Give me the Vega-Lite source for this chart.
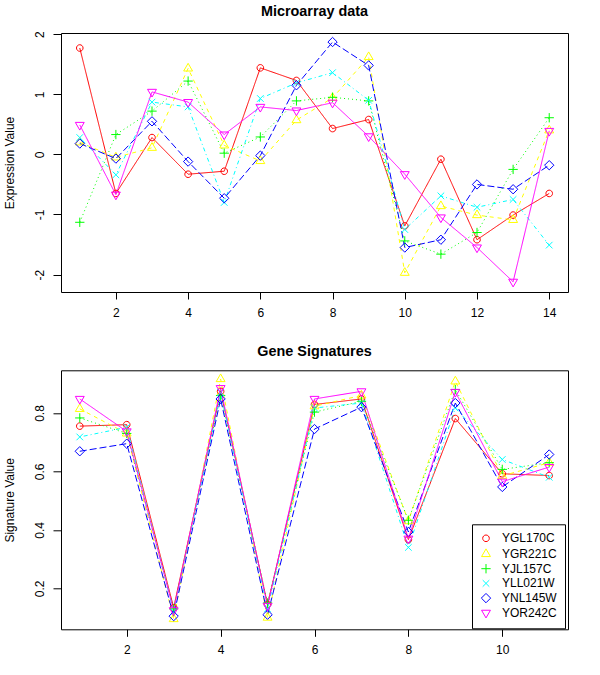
{
  "$schema": "https://vega.github.io/schema/vega-lite/v6.json",
  "padding": {"left": 3, "top": 3, "right": 0, "bottom": 0},
  "background": "white",
  "spacing": 78.3,
  "bounds": "flush",
  "datasets": {
    "micro": [
      {"g":"YGL170C","x":1,"v":1.77},{"g":"YGL170C","x":2,"v":-0.65},{"g":"YGL170C","x":3,"v":0.28},{"g":"YGL170C","x":4,"v":-0.33},{"g":"YGL170C","x":5,"v":-0.28},{"g":"YGL170C","x":6,"v":1.44},{"g":"YGL170C","x":7,"v":1.23},{"g":"YGL170C","x":8,"v":0.43},{"g":"YGL170C","x":9,"v":0.58},{"g":"YGL170C","x":10,"v":-1.19},{"g":"YGL170C","x":11,"v":-0.08},{"g":"YGL170C","x":12,"v":-1.42},{"g":"YGL170C","x":13,"v":-1.01},{"g":"YGL170C","x":14,"v":-0.65},
      {"g":"YGR221C","x":1,"v":0.2},{"g":"YGR221C","x":2,"v":-0.05},{"g":"YGR221C","x":3,"v":0.11},{"g":"YGR221C","x":4,"v":1.43},{"g":"YGR221C","x":5,"v":0.15},{"g":"YGR221C","x":6,"v":-0.11},{"g":"YGR221C","x":7,"v":0.57},{"g":"YGR221C","x":8,"v":0.94},{"g":"YGR221C","x":9,"v":1.62},{"g":"YGR221C","x":10,"v":-1.97},{"g":"YGR221C","x":11,"v":-0.86},{"g":"YGR221C","x":12,"v":-1.01},{"g":"YGR221C","x":13,"v":-1.09},{"g":"YGR221C","x":14,"v":0.4},
      {"g":"YJL157C","x":1,"v":-1.13},{"g":"YJL157C","x":2,"v":0.33},{"g":"YJL157C","x":3,"v":0.72},{"g":"YJL157C","x":4,"v":1.22},{"g":"YJL157C","x":5,"v":0.02},{"g":"YJL157C","x":6,"v":0.29},{"g":"YJL157C","x":7,"v":0.89},{"g":"YJL157C","x":8,"v":0.95},{"g":"YJL157C","x":9,"v":0.89},{"g":"YJL157C","x":10,"v":-1.44},{"g":"YJL157C","x":11,"v":-1.66},{"g":"YJL157C","x":12,"v":-1.3},{"g":"YJL157C","x":13,"v":-0.25},{"g":"YJL157C","x":14,"v":0.61},
      {"g":"YLL021W","x":1,"v":0.28},{"g":"YLL021W","x":2,"v":-0.34},{"g":"YLL021W","x":3,"v":0.87},{"g":"YLL021W","x":4,"v":0.79},{"g":"YLL021W","x":5,"v":-0.8},{"g":"YLL021W","x":6,"v":0.93},{"g":"YLL021W","x":7,"v":1.19},{"g":"YLL021W","x":8,"v":1.36},{"g":"YLL021W","x":9,"v":0.9},{"g":"YLL021W","x":10,"v":-1.25},{"g":"YLL021W","x":11,"v":-0.69},{"g":"YLL021W","x":12,"v":-0.88},{"g":"YLL021W","x":13,"v":-0.75},{"g":"YLL021W","x":14,"v":-1.51},
      {"g":"YNL145W","x":1,"v":0.18},{"g":"YNL145W","x":2,"v":-0.07},{"g":"YNL145W","x":3,"v":0.55},{"g":"YNL145W","x":4,"v":-0.12},{"g":"YNL145W","x":5,"v":-0.73},{"g":"YNL145W","x":6,"v":-0.02},{"g":"YNL145W","x":7,"v":1.15},{"g":"YNL145W","x":8,"v":1.87},{"g":"YNL145W","x":9,"v":1.48},{"g":"YNL145W","x":10,"v":-1.55},{"g":"YNL145W","x":11,"v":-1.42},{"g":"YNL145W","x":12,"v":-0.5},{"g":"YNL145W","x":13,"v":-0.58},{"g":"YNL145W","x":14,"v":-0.18},
      {"g":"YOR242C","x":1,"v":0.49},{"g":"YOR242C","x":2,"v":-0.67},{"g":"YOR242C","x":3,"v":1.04},{"g":"YOR242C","x":4,"v":0.87},{"g":"YOR242C","x":5,"v":0.33},{"g":"YOR242C","x":6,"v":0.79},{"g":"YOR242C","x":7,"v":0.73},{"g":"YOR242C","x":8,"v":0.86},{"g":"YOR242C","x":9,"v":0.3},{"g":"YOR242C","x":10,"v":-0.33},{"g":"YOR242C","x":11,"v":-1.05},{"g":"YOR242C","x":12,"v":-1.55},{"g":"YOR242C","x":13,"v":-2.12},{"g":"YOR242C","x":14,"v":0.39}
    ],
    "sig": [
      {"g":"YGL170C","x":1,"v":0.755},{"g":"YGL170C","x":2,"v":0.76},{"g":"YGL170C","x":3,"v":0.134},{"g":"YGL170C","x":4,"v":0.874},{"g":"YGL170C","x":5,"v":0.145},{"g":"YGL170C","x":6,"v":0.829},{"g":"YGL170C","x":7,"v":0.848},{"g":"YGL170C","x":8,"v":0.367},{"g":"YGL170C","x":9,"v":0.781},{"g":"YGL170C","x":10,"v":0.592},{"g":"YGL170C","x":11,"v":0.586},
      {"g":"YGR221C","x":1,"v":0.814},{"g":"YGR221C","x":2,"v":0.73},{"g":"YGR221C","x":3,"v":0.095},{"g":"YGR221C","x":4,"v":0.916},{"g":"YGR221C","x":5,"v":0.1},{"g":"YGR221C","x":6,"v":0.823},{"g":"YGR221C","x":7,"v":0.86},{"g":"YGR221C","x":8,"v":0.43},{"g":"YGR221C","x":9,"v":0.908},{"g":"YGR221C","x":10,"v":0.585},{"g":"YGR221C","x":11,"v":0.63},
      {"g":"YJL157C","x":1,"v":0.783},{"g":"YJL157C","x":2,"v":0.73},{"g":"YJL157C","x":3,"v":0.13},{"g":"YJL157C","x":4,"v":0.86},{"g":"YJL157C","x":5,"v":0.15},{"g":"YJL157C","x":6,"v":0.803},{"g":"YJL157C","x":7,"v":0.84},{"g":"YJL157C","x":8,"v":0.433},{"g":"YJL157C","x":9,"v":0.88},{"g":"YJL157C","x":10,"v":0.607},{"g":"YJL157C","x":11,"v":0.63},
      {"g":"YLL021W","x":1,"v":0.718},{"g":"YLL021W","x":2,"v":0.751},{"g":"YLL021W","x":3,"v":0.12},{"g":"YLL021W","x":4,"v":0.87},{"g":"YLL021W","x":5,"v":0.13},{"g":"YLL021W","x":6,"v":0.817},{"g":"YLL021W","x":7,"v":0.834},{"g":"YLL021W","x":8,"v":0.34},{"g":"YLL021W","x":9,"v":0.817},{"g":"YLL021W","x":10,"v":0.641},{"g":"YLL021W","x":11,"v":0.58},
      {"g":"YNL145W","x":1,"v":0.669},{"g":"YNL145W","x":2,"v":0.695},{"g":"YNL145W","x":3,"v":0.105},{"g":"YNL145W","x":4,"v":0.848},{"g":"YNL145W","x":5,"v":0.11},{"g":"YNL145W","x":6,"v":0.745},{"g":"YNL145W","x":7,"v":0.82},{"g":"YNL145W","x":8,"v":0.393},{"g":"YNL145W","x":9,"v":0.834},{"g":"YNL145W","x":10,"v":0.547},{"g":"YNL145W","x":11,"v":0.658},
      {"g":"YOR242C","x":1,"v":0.848},{"g":"YOR242C","x":2,"v":0.737},{"g":"YOR242C","x":3,"v":0.125},{"g":"YOR242C","x":4,"v":0.885},{"g":"YOR242C","x":5,"v":0.14},{"g":"YOR242C","x":6,"v":0.848},{"g":"YOR242C","x":7,"v":0.874},{"g":"YOR242C","x":8,"v":0.37},{"g":"YOR242C","x":9,"v":0.872},{"g":"YOR242C","x":10,"v":0.565},{"g":"YOR242C","x":11,"v":0.615}
    ]
  },
  "resolve": {"legend": {"color": "independent", "shape": "independent", "strokeDash": "independent", "stroke": "independent"}},
  "vconcat": [
    {
      "width": 507,
      "height": 259,
      "title": {"text": "Microarray data"},
      "data": {"name": "micro"},
      "encoding": {
        "x": {"field": "x", "type": "quantitative", "scale": {"domain": [0.48, 14.52], "nice": false, "zero": false},
              "axis": {"values": [2, 4, 6, 8, 10, 12, 14], "title": null, "tickSize": 7, "labelPadding": 17, "labelBaseline": "alphabetic", "labelFlush": false, "labelOverlap": false}},
        "y": {"field": "v", "type": "quantitative", "scale": {"domain": [-2.29, 2.02], "nice": false, "zero": false},
              "axis": {"values": [-2, -1, 0, 1, 2], "title": "Expression Value", "tickSize": 8, "labelAngle": -90, "labelAlign": "center", "labelBaseline": "alphabetic", "labelPadding": 10, "labelFlush": false, "labelOverlap": false, "labelExpr": "replace(datum.label, '−', '-')", "titleX": -47.5, "titleY": 129.5, "titleAngle": -90, "titleAlign": "center", "titleBaseline": "alphabetic"}}
      },
      "layer": [
        {"mark": {"type": "line", "strokeWidth": 1},
         "encoding": {
           "stroke": {"field": "g", "type": "nominal", "legend": null,
                      "scale": {"range": ["#FF0000","#FFFF00","#00FF00","#00FFFF","#0000FF","#FF00FF"]}},
           "strokeDash": {"field": "g", "type": "nominal", "legend": null,
                          "scale": {"range": [[1,0],[4,4],[1,3],[1,3,4,3],[7,3],[1,0]]}}}},
        {"mark": {"type": "point", "filled": false, "size": 100, "strokeWidth": 1, "opacity": 1},
         "encoding": {
           "color": {"field": "g", "type": "nominal", "legend": null,
                     "scale": {"domain": ["YGL170C","YGR221C","YJL157C","YLL021W","YNL145W","YOR242C"], "range": ["#FF0000","#FFFF00","#00FF00","#00FFFF","#0000FF","#FF00FF"]}},
           "shape": {"field": "g", "type": "nominal", "legend": null,
            "scale": {"domain": ["YGL170C","YGR221C","YJL157C","YLL021W","YNL145W","YOR242C"],
                      "range": ["M0.66,0A0.66,0.66,0,1,1,-0.66,0A0.66,0.66,0,1,1,0.66,0Z", "M0,-1.026L0.889,0.513L-0.889,0.513Z", "M-0.933,0L0.933,0M0,-0.933L0,0.933", "M-0.66,-0.66L0.66,0.66M-0.66,0.66L0.66,-0.66", "M-0.933,0L0,-0.933L0.933,0L0,0.933Z", "M0,1.026L0.889,-0.513L-0.889,-0.513Z"]}}}}
      ]
    },
    {
      "width": 507,
      "height": 259,
      "title": {"text": "Gene Signatures"},
      "data": {"name": "sig"},
      "encoding": {
        "x": {"field": "x", "type": "quantitative", "scale": {"domain": [0.6, 11.4], "nice": false, "zero": false},
              "axis": {"values": [2, 4, 6, 8, 10], "title": null, "tickSize": 7, "labelPadding": 17, "labelBaseline": "alphabetic", "labelFlush": false, "labelOverlap": false}},
        "y": {"field": "v", "type": "quantitative", "scale": {"domain": [0.06, 0.946], "nice": false, "zero": false},
              "axis": {"values": [0.2, 0.4, 0.6, 0.8], "format": ".1f", "title": "Signature Value", "tickSize": 8, "labelAngle": -90, "labelAlign": "center", "labelBaseline": "alphabetic", "labelPadding": 10, "labelFlush": false, "labelOverlap": false, "titleX": -47.5, "titleY": 129.5, "titleAngle": -90, "titleAlign": "center", "titleBaseline": "alphabetic"}}
      },
      "layer": [
        {"mark": {"type": "line", "strokeWidth": 1},
         "encoding": {
           "stroke": {"field": "g", "type": "nominal", "legend": null,
                      "scale": {"range": ["#FF0000","#FFFF00","#00FF00","#00FFFF","#0000FF","#FF00FF"]}},
           "strokeDash": {"field": "g", "type": "nominal", "legend": null,
                          "scale": {"range": [[1,0],[4,4],[1,3],[1,3,4,3],[7,3],[1,0]]}}}},
        {"mark": {"type": "point", "filled": false, "size": 100, "strokeWidth": 1, "opacity": 1},
         "encoding": {
           "color": {"field": "g", "type": "nominal",
                     "scale": {"domain": ["YGL170C","YGR221C","YJL157C","YLL021W","YNL145W","YOR242C"], "range": ["#FF0000","#FFFF00","#00FF00","#00FFFF","#0000FF","#FF00FF"]},
                     "legend": {"orient": "none", "legendX": 411, "legendY": 154, "title": null, "strokeColor": "black", "fillColor": "white", "padding": 8, "labelFontSize": 12, "labelColor": "black", "symbolSize": 100, "symbolStrokeWidth": 1, "rowPadding": 1.7, "labelOffset": 10}},
           "shape": {"field": "g", "type": "nominal",
            "legend": {"orient": "none", "legendX": 411, "legendY": 154, "title": null, "strokeColor": "black", "fillColor": "white", "padding": 8, "labelFontSize": 12, "labelColor": "black", "symbolSize": 100, "symbolStrokeWidth": 1, "rowPadding": 1.7, "labelOffset": 10},
            "scale": {"domain": ["YGL170C","YGR221C","YJL157C","YLL021W","YNL145W","YOR242C"],
                      "range": ["M0.66,0A0.66,0.66,0,1,1,-0.66,0A0.66,0.66,0,1,1,0.66,0Z", "M0,-1.026L0.889,0.513L-0.889,0.513Z", "M-0.933,0L0.933,0M0,-0.933L0,0.933", "M-0.66,-0.66L0.66,0.66M-0.66,0.66L0.66,-0.66", "M-0.933,0L0,-0.933L0.933,0L0,0.933Z", "M0,1.026L0.889,-0.513L-0.889,-0.513Z"]}}}}
      ]
    }
  ],
  "config": {
    "font": "Liberation Sans",
    "view": {"stroke": "black", "strokeWidth": 1},
    "axis": {"domain": false, "grid": false, "tickColor": "black", "tickWidth": 1, "labelColor": "black", "labelFontSize": 12, "labelFont": "Liberation Sans", "titleFontSize": 12, "titleFontWeight": "normal", "titleColor": "black", "titleFont": "Liberation Sans"},
    "title": {"fontSize": 14.4, "fontWeight": "bold", "color": "black", "font": "Liberation Sans", "anchor": "middle", "baseline": "alphabetic", "offset": 11},
    "legend": {"labelFont": "Liberation Sans"}
  }
}
